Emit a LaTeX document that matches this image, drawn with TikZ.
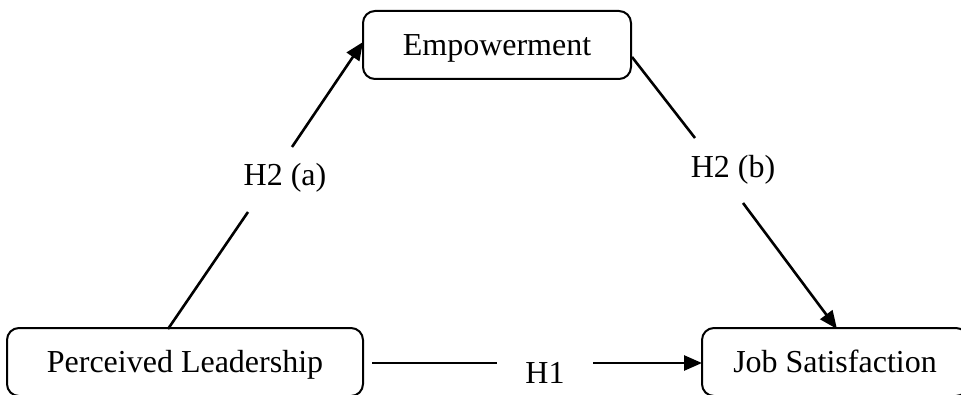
\documentclass[tikz,border=0pt]{standalone}
\usepackage{fontspec}
\setmainfont{Liberation Serif}
\usetikzlibrary{arrows.meta}
\begin{document}
\begin{tikzpicture}[x=0.5pt,y=-0.5pt,
  construct/.style={draw, line width=1pt, rounded corners=6pt,
    minimum height=34pt, inner sep=0pt, text height=10.6pt, text depth=0pt,
    font=\fontsize{16}{19}\selectfont},
  hyplabel/.style={inner sep=0pt, anchor=base, font=\fontsize{16}{19}\selectfont},
  path/.style={line width=1.3pt},
  patharrow/.style={line width=1.3pt, -{Triangle[length=9pt,width=7.5pt]}}]
\useasboundingbox (0,0) rectangle (961,395);
\clip (0,0) rectangle (961,395);

% constructs
\node[construct, minimum width=134pt] (emp) at (497,45) {Empowerment};
\node[construct, minimum width=178pt] (pl) at (185,362) {Perceived Leadership};
\node[construct, minimum width=133pt] (js) at (835,362) {Job Satisfaction};

% hypothesis labels
\node[hyplabel] (ha) at (285,185) {H2 (a)};
\node[hyplabel] (hb) at (733,177) {H2 (b)};
\node[hyplabel] (hc) at (545,383) {H1};

% break points of the paths around the labels
\coordinate (a0) at (168,329);
\coordinate (a1) at (248,212);
\coordinate (a2) at (292,147);
\coordinate (a3) at (363,42);
\coordinate (b0) at (632,57);
\coordinate (b1) at (695,138);
\coordinate (b2) at (743,203);
\coordinate (b3) at (837,329);
\coordinate (c0) at (372,363);
\coordinate (c1) at (497,363);
\coordinate (c2) at (593,363);
\coordinate (c3) at (702,363);

% H2 (a): leadership -> empowerment
\draw[path] (a0) -- (a1);
\draw[patharrow] (a2) -- (a3);
% H2 (b): empowerment -> satisfaction
\draw[path] (b0) -- (b1);
\draw[patharrow] (b2) -- (b3);
% H1: leadership -> satisfaction
\draw[path] (c0) -- (c1);
\draw[patharrow] (c2) -- (c3);
\end{tikzpicture}
\end{document}
